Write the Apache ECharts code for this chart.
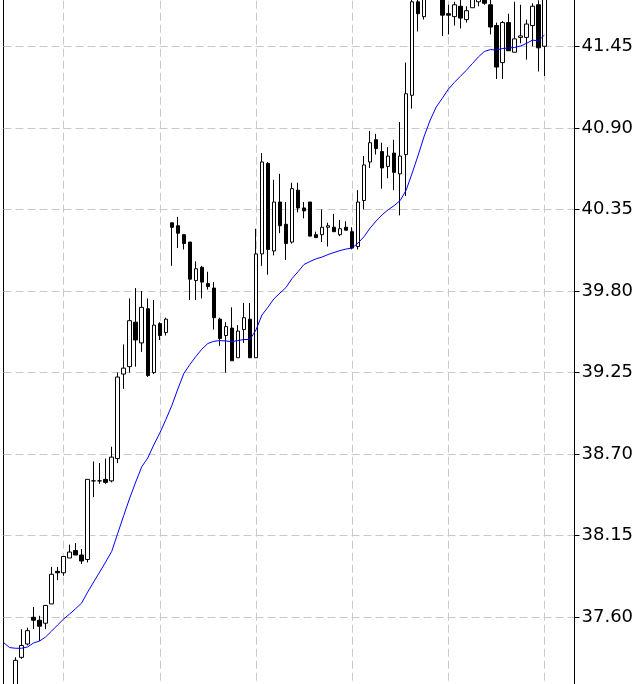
<!DOCTYPE html>
<html><head><meta charset="utf-8">
<script src="https://cdn.jsdelivr.net/npm/echarts@6/dist/echarts.min.js"></script>
<style>html,body{margin:0;padding:0;background:#fff}#c{width:640px;height:684px}</style>
</head><body><div id="c"></div>
<script>
// Categories: bar index (-2 .. 93); bars beyond 88 are empty room on the right
const categories = Array.from({length: 96}, (_, k) => String(k - 2));
// Categories that carry a vertical grid line
const gridLineCategories = ['8', '24', '40', '56', '72', '88'];
// Y tick labels
const yTickLabels = ['37.60','38.15','38.70','39.25','39.80','40.35','40.90','41.45'];

const opens = [37.00,37.06,37.02,37.33,37.42,37.60,37.58,37.56,37.69,37.91,37.90,38.00,38.05,38.02,37.99,38.52,38.52,38.53,38.52,38.67,39.24,39.29,39.59,39.45,39.68,39.25,39.58,39.52,40.26,40.24,40.18,40.13,39.87,39.96,39.85,39.82,39.61,39.50,39.55,39.35,39.54,39.61,39.35,40.05,40.66,40.07,40.40,40.25,40.13,40.48,40.36,40.40,40.18,40.18,40.23,40.23,40.18,40.23,40.20,40.10,40.41,40.67,40.82,40.74,40.64,40.73,40.59,40.72,41.12,41.75,41.65,41.85,41.90,41.80,41.67,41.65,41.72,41.63,41.71,41.75,41.80,41.73,41.59,41.34,41.61,41.41,41.51,41.51,41.59,41.73,41.45];
const closes = [37.06,37.02,37.31,37.41,37.51,37.58,37.54,37.68,37.89,37.90,38.01,38.04,38.02,37.98,38.53,38.52,38.52,38.51,38.68,39.22,39.28,39.60,39.47,39.69,39.23,39.57,39.50,39.61,40.23,40.19,40.12,39.88,39.95,39.86,39.83,39.62,39.48,39.56,39.33,39.53,39.62,39.35,40.05,40.67,40.08,40.40,40.24,40.12,40.49,40.36,40.34,40.17,40.16,40.23,40.24,40.20,40.22,40.21,40.09,40.40,40.65,40.80,40.76,40.63,40.71,40.60,40.71,41.13,41.75,41.67,41.80,41.90,41.82,41.66,41.66,41.73,41.64,41.69,41.80,41.78,41.74,41.58,41.31,41.61,41.42,41.50,41.52,41.60,41.72,41.44,41.80];
const lows = [36.95,36.97,36.98,37.32,37.41,37.52,37.44,37.52,37.69,37.85,37.88,38.00,38.02,37.96,37.97,38.41,38.50,38.50,38.51,38.64,39.14,39.25,39.29,39.39,39.22,39.24,39.47,39.50,39.97,40.09,40.08,39.74,39.74,39.75,39.81,39.54,39.43,39.25,39.33,39.35,39.45,39.35,39.35,39.97,39.91,40.04,40.19,40.01,40.12,40.33,40.29,40.17,40.16,40.13,40.10,40.20,40.17,40.21,40.08,40.08,40.35,40.63,40.72,40.49,40.56,40.48,40.31,40.44,41.03,41.55,41.63,41.80,41.78,41.52,41.53,41.59,41.57,41.61,41.71,41.72,41.73,41.53,41.23,41.23,41.42,41.41,41.47,41.36,41.45,41.28,41.25];
const highs = [37.10,37.12,37.33,37.52,37.53,37.67,37.61,37.68,37.94,37.94,38.01,38.09,38.10,38.06,38.53,38.65,38.64,38.67,38.75,39.25,39.44,39.75,39.82,39.80,39.75,39.74,39.59,39.62,40.26,40.30,40.18,40.13,40.00,39.97,39.93,39.86,39.62,39.59,39.69,39.57,39.72,39.72,40.22,40.73,40.67,40.55,40.59,40.40,40.53,40.53,40.40,40.40,40.20,40.35,40.26,40.32,40.28,40.27,40.23,40.48,40.71,40.88,40.86,40.80,40.77,40.82,40.94,41.34,41.80,41.80,41.85,41.95,41.95,41.85,41.73,41.75,41.78,41.72,41.85,41.85,41.85,41.78,41.61,41.62,41.67,41.75,41.73,41.63,41.74,41.76,41.85];
const movingAverage = [37.430,37.396,37.391,37.391,37.400,37.427,37.440,37.467,37.507,37.548,37.588,37.622,37.658,37.696,37.770,37.838,37.905,37.973,38.044,38.165,38.286,38.404,38.512,38.615,38.674,38.762,38.842,38.932,39.027,39.139,39.244,39.304,39.358,39.408,39.446,39.461,39.466,39.463,39.459,39.466,39.473,39.473,39.537,39.638,39.691,39.748,39.786,39.824,39.884,39.930,39.979,39.999,40.017,40.029,40.046,40.060,40.073,40.083,40.090,40.124,40.167,40.225,40.272,40.314,40.348,40.376,40.410,40.481,40.596,40.717,40.845,40.953,41.041,41.099,41.160,41.206,41.247,41.288,41.333,41.378,41.415,41.428,41.425,41.435,41.438,41.442,41.452,41.469,41.492,41.486,41.526];

const candleData = opens.map((o, k) => [o, closes[k], lows[k], highs[k]]);
const step = 0.55;
const yMin = +(parseFloat(yTickLabels[0]) - step).toFixed(2);
const yMax = +(parseFloat(yTickLabels[yTickLabels.length - 1]) + step).toFixed(2);

const dashStyle = {color: '#c8c8c8', width: 1, type: [8, 4]};
const chart = echarts.init(document.getElementById('c'), null, {renderer: 'canvas'});
chart.setOption({
  animation: false,
  backgroundColor: '#ffffff',
  grid: {left: 3.5, right: 65.5, top: -35.27, bottom: -14.87, containLabel: false, outerBoundsMode: 'none',
    show: true, borderColor: '#000', borderWidth: 1, backgroundColor: 'transparent'},
  xAxis: {
    type: 'category', data: categories, boundaryGap: false,
    axisLine: {show: false}, axisTick: {show: false}, axisLabel: {show: false},
    splitLine: {show: true, interval: (idx, val) => gridLineCategories.includes(String(val)), lineStyle: dashStyle}
  },
  yAxis: {
    type: 'value', position: 'right', scale: true,
    min: yMin, max: yMax, interval: step,
    axisLine: {show: true, lineStyle: {color: '#000', width: 1}},
    axisTick: {show: true, length: 5, inside: false, lineStyle: {color: '#000'}},
    axisLabel: {color: '#000', fontSize: 18, fontFamily: 'DejaVu Sans', margin: 7,
      padding: [4, 0, 0, 0], formatter: v => v.toFixed(2)},
    splitLine: {show: true, lineStyle: dashStyle}
  },
  series: [
    {
      type: 'candlestick', data: candleData, barWidth: 4,
      itemStyle: {color: '#ffffff', color0: '#000000', borderColor: '#000000', borderColor0: '#000000', borderColorDoji: '#000000', borderWidth: 1}
    },
    {
      type: 'line', data: movingAverage, showSymbol: false, symbol: 'none',
      lineStyle: {color: '#0000ff', width: 1}, z: 3
    }
  ]
});
</script></body></html>
